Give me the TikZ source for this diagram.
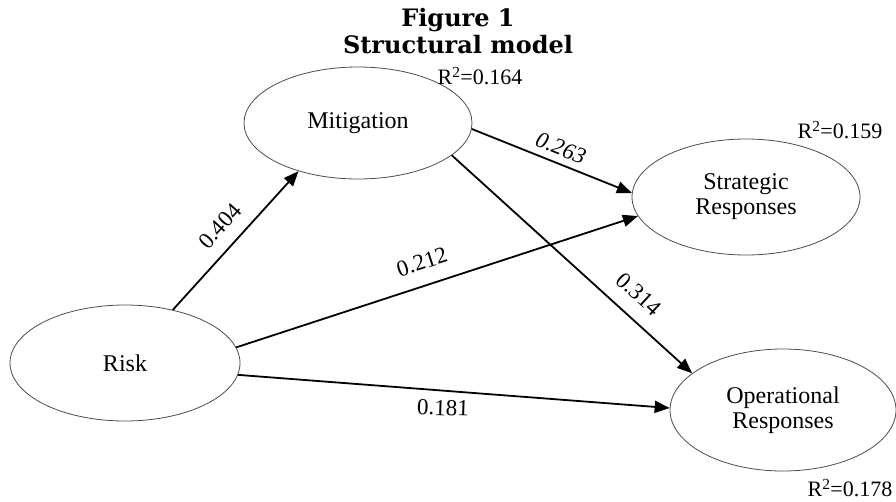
\documentclass[tikz,border=0pt]{standalone}
\usepackage{fontspec}
\setmainfont{Liberation Serif}
\newfontfamily\titlefont{DejaVu Serif}
\usetikzlibrary{shapes.geometric,arrows.meta}
\tikzset{
  latent/.style={ellipse, draw=black!70, line width=0.8pt, inner sep=0pt, align=center,
    font=\fontsize{24}{25}\selectfont},
  path/.style={line width=1.8pt, -{Triangle[length=15pt,width=12pt]}},
  coef/.style={font=\fontsize{23}{25}\selectfont, inner sep=0pt},
  rsq/.style={font=\fontsize{22}{24}\selectfont, inner sep=0pt},
  ttl/.style={font=\titlefont\bfseries\fontsize{24}{26}\selectfont, inner sep=0pt}
}
\begin{document}
\begin{tikzpicture}[x=1pt,y=-1pt]
\useasboundingbox (0,0) rectangle (896,501);
\node[ttl] (t1) at (458,20) {Figure 1};
\node[ttl] (t2) at (458,45) {Structural model};

\node[latent, minimum width=228pt, minimum height=112pt] (mit) at (358,123) {Mitigation};
\node[latent, minimum width=228pt, minimum height=116pt] (str) at (746,197) {Strategic\\Responses};
\node[latent, minimum width=230pt, minimum height=116pt] (risk) at (125,363) {Risk};
\node[latent, minimum width=226pt, minimum height=122pt] (op) at (783,410) {Operational\\Responses};

\node[rsq] (r1) at (480,76) {R\textsuperscript{2}=0.164};
\node[rsq] (r2) at (840,130) {R\textsuperscript{2}=0.159};
\node[rsq] (r3) at (850,488) {R\textsuperscript{2}=0.178};

\draw[path] (risk.48) -- (mit.219);
\draw[path] (risk.8) -- (str.190);
\draw[path] (risk.-6) -- (op.179);
\draw[path] (mit.-3) -- (str.178);
\draw[path] (mit.-19) -- (op.158);

\node[coef, rotate=47.8] (c1) at (220,226) {0.404};
\node[coef, rotate=18] (c2) at (422,262) {0.212};
\node[coef, rotate=-2] (c3) at (443,408) {0.181};
\node[coef, rotate=-21.5, font=\itshape\fontsize{23}{25}\selectfont] (c4) at (561,148) {0.263};
\node[coef, rotate=-42.6] (c5) at (639,294) {0.314};
\end{tikzpicture}
\end{document}
